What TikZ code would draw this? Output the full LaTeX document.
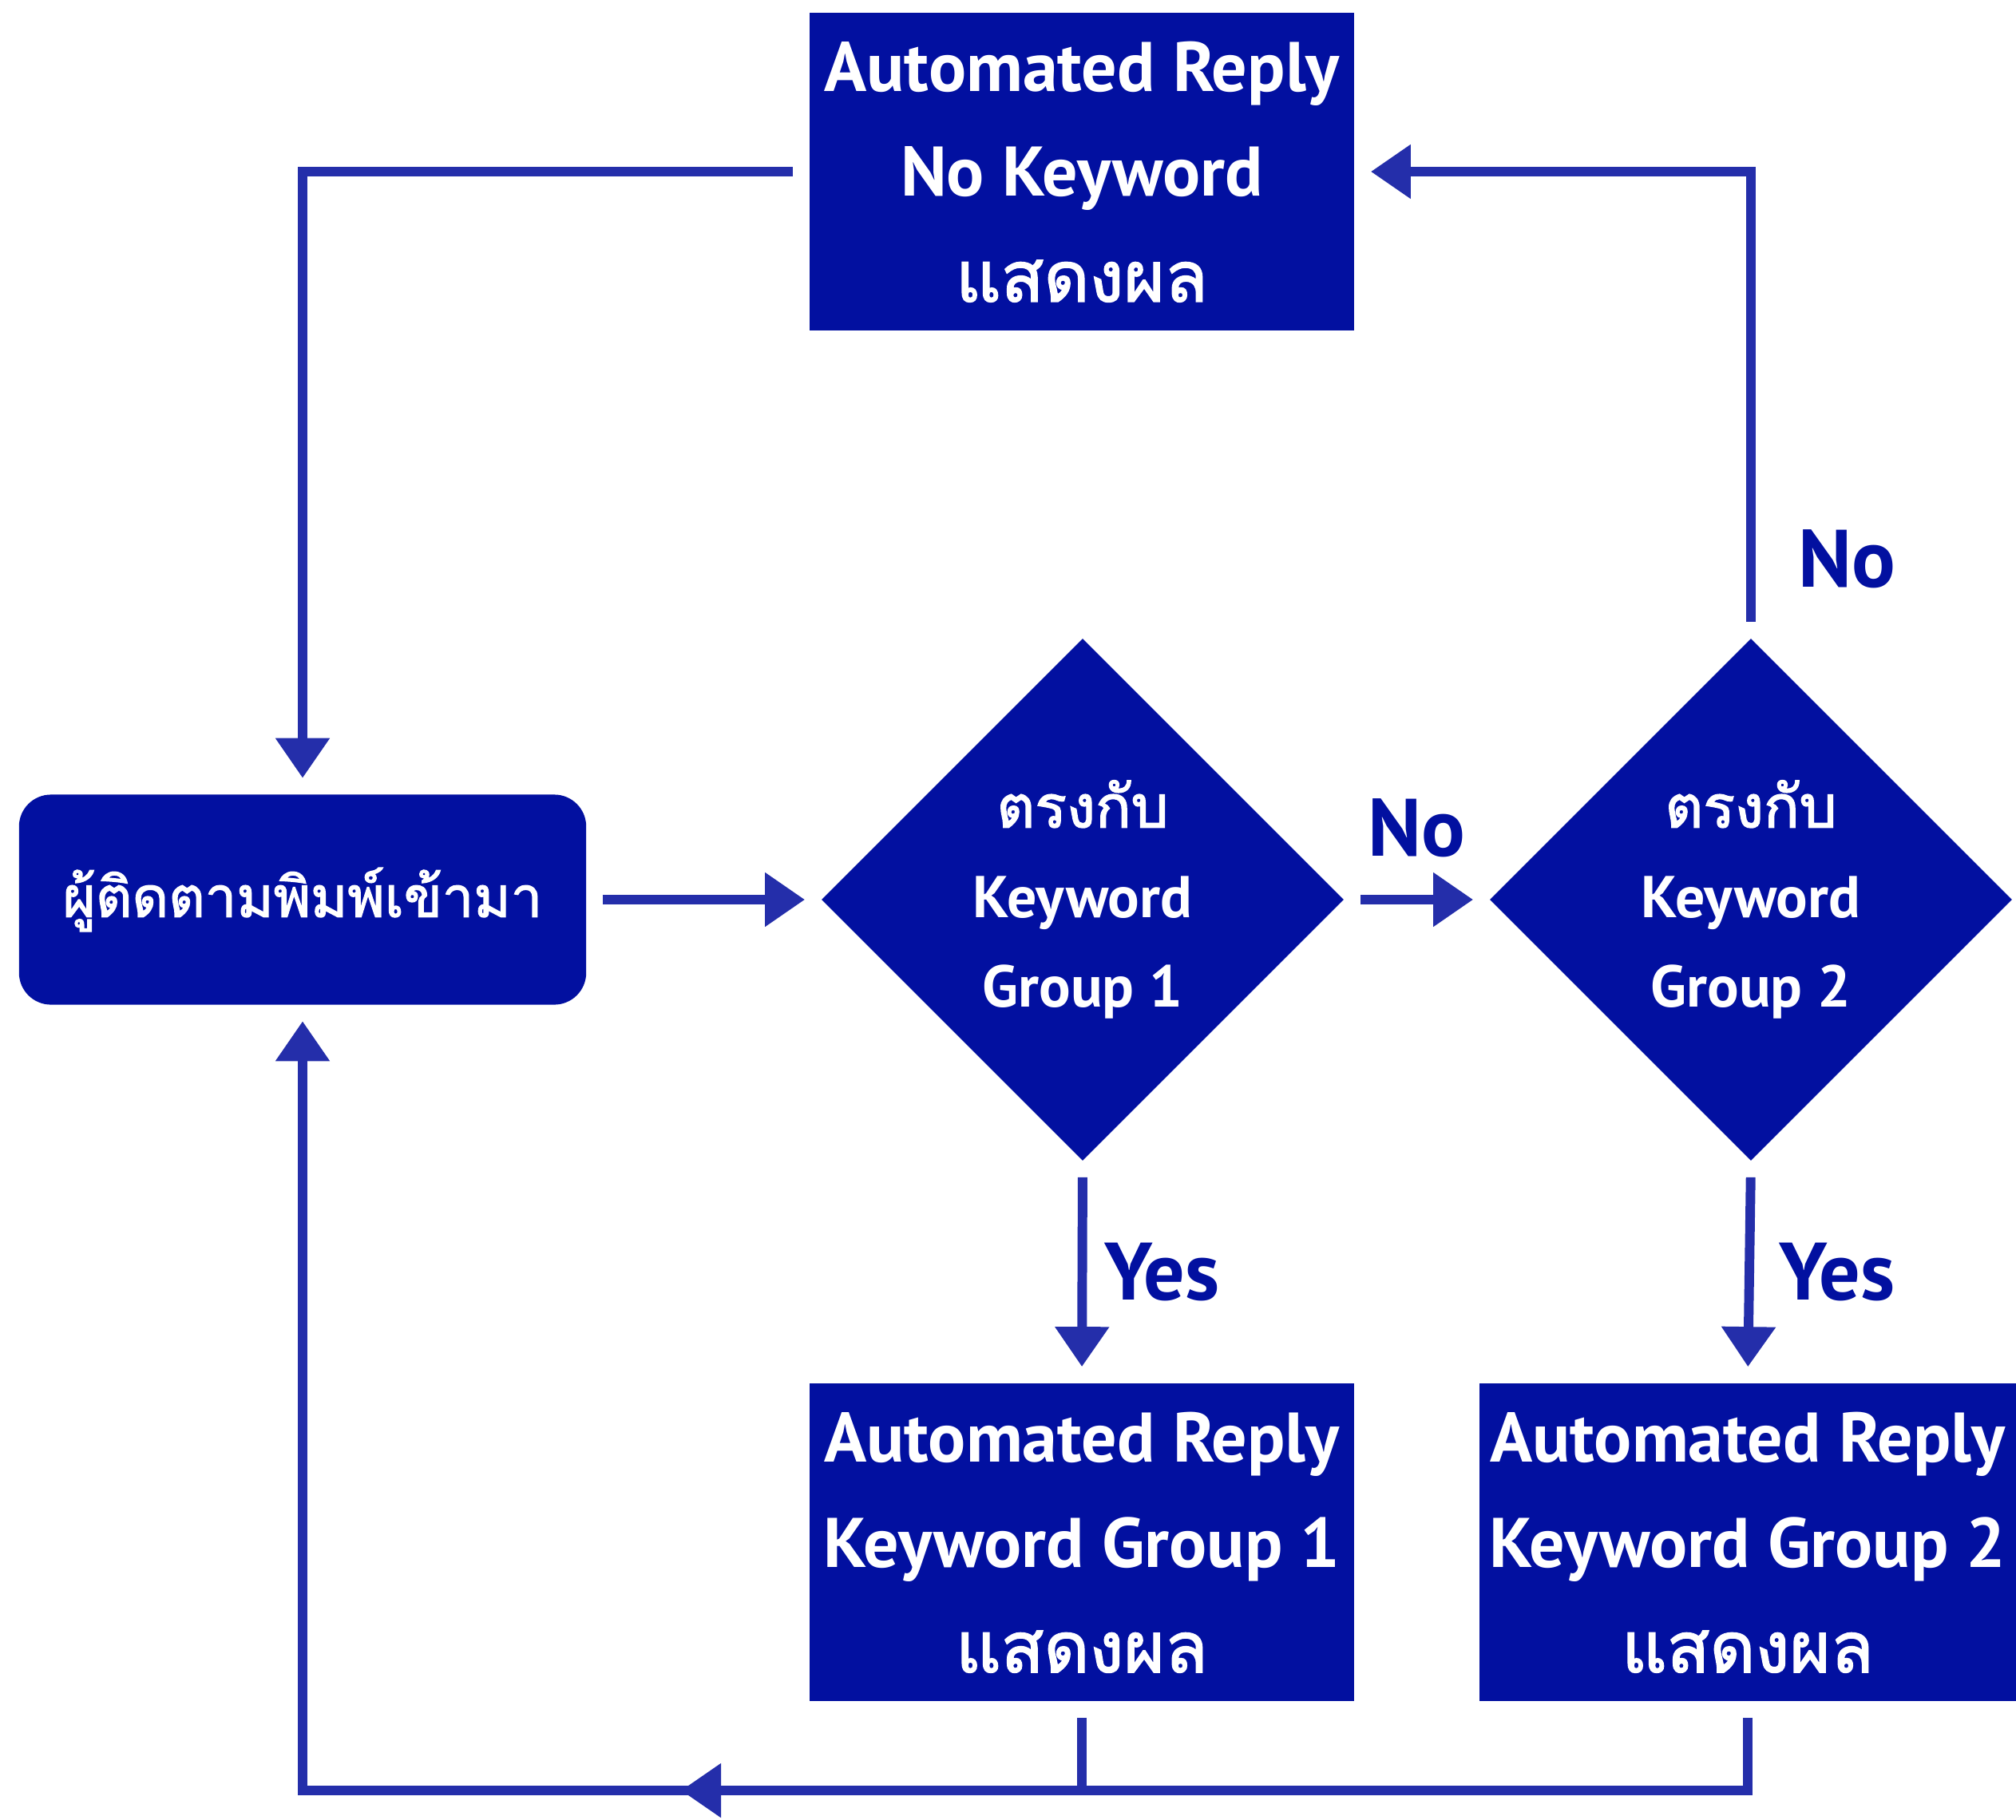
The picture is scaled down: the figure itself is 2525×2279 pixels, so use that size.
\documentclass[tikz,border=0pt]{standalone}
\usepackage{fontspec}
\setmainfont{PT Sans}
\newfontfamily\thaifont[Script=Thai,AutoFakeBold=2]{Loma}
\usetikzlibrary{arrows.meta,shapes.geometric}
\definecolor{boxB}{RGB}{2,16,160}
\definecolor{lineB}{RGB}{36,46,170}
\newcommand{\thai}[1]{{\thaifont #1}}

\begin{document}
\begin{tikzpicture}[x=0.01cm,y=-0.01cm,>={Triangle[length=5mm,width=6.5mm]},
  replybox/.style={fill=boxB,text=white,inner sep=0pt,align=center,
    minimum width=6.82cm,minimum height=3.98cm,font=\bfseries\fontsize{25}{37.5}\selectfont},
  startbox/.style={fill=boxB,text=white,inner sep=0pt,rounded corners=0.4cm,
    minimum width=7.10cm,minimum height=2.63cm,font=\bfseries\fontsize{20}{30}\selectfont},
  decision/.style={diamond,fill=boxB,text=white,inner sep=0pt,align=center,
    minimum width=6.54cm,minimum height=6.54cm,font=\bfseries\fontsize{21}{32}\selectfont},
  flow/.style={draw=lineB,line width=3.4pt,shorten <=0.2cm,shorten >=0.2cm},
  answer/.style={text=boxB,font=\bfseries\fontsize{29}{30}\selectfont}]
\useasboundingbox (0,0) rectangle (2525,2279);

\node[replybox] (replyNo) at (1355,215) {Automated Reply\\No Keyword\\\thai{แสดงผล}};
\node[startbox] (start) at (379,1127) {\thai{ผู้ติดตามพิมพ์เข้ามา}};
\node[decision] (dec1) at (1356,1127) {\thai{ตรงกับ}\\Keyword\\Group 1};
\node[decision] (dec2) at (2193,1127) {\thai{ตรงกับ}\\Keyword\\Group 2};
\node[replybox] (reply1) at (1355,1932) {Automated Reply\\Keyword Group 1\\\thai{แสดงผล}};
\node[replybox,minimum width=6.72cm] (reply2) at (2189,1932) {Automated Reply\\Keyword Group 2\\\thai{แสดงผล}};

\coordinate (back) at (start.south |- 0,2243);
\coordinate (backtip) at (853,2243);

\draw[flow,->] (start) -- (dec1);
\draw[flow,->] (dec1) -- (dec2) node[midway,answer,above=0.35cm]{No};
\draw[flow,->] (dec2.north) |- (replyNo.east) node[pos=0.085,answer,right=0.42cm]{No};
\draw[flow,->] (replyNo.west) -| (start.north);
\draw[flow,->] (dec1.south) -- (reply1.north) node[midway,answer,right=0.1cm]{Yes};
\draw[flow,->] (dec2.south) -- (reply2.north) node[midway,answer,right=0.2cm]{Yes};
\draw[flow,->] (reply2.south) |- (back) -- (start.south);
\draw[flow,shorten >=0pt] (reply1.south) -- (reply1.south |- back);
\draw[flow,->,shorten <=0pt,shorten >=0pt] (reply1.south |- back) -- (backtip);
\end{tikzpicture}
\end{document}
